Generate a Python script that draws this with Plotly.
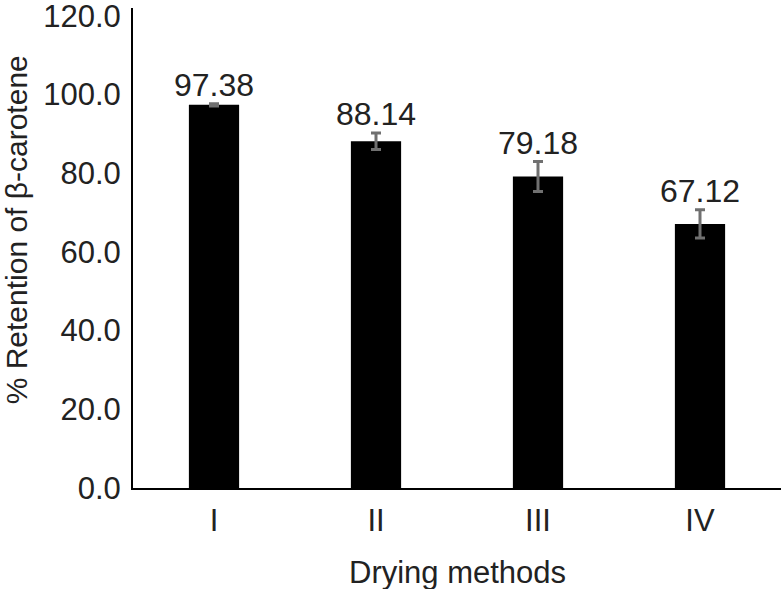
import plotly.graph_objects as go

categories = ["I", "II", "III", "IV"]
values = [97.38, 88.14, 79.18, 67.12]
errors = [0.3, 2.1, 3.8, 3.6]
labels = ["97.38", "88.14", "79.18", "67.12"]

FONT = "Liberation Sans, Arial"

fig = go.Figure()
fig.add_trace(go.Bar(
    x=categories, y=values,
    marker=dict(color="black", line=dict(width=0)),
    error_y=dict(type="data", array=errors, color="#707070", thickness=3, width=5),
    width=0.31,
))
fig.add_trace(go.Scatter(
    x=categories, y=[v + e for v, e in zip(values, errors)],
    mode="text", text=labels, textposition="top center",
    textfont=dict(size=32, color="#222222", family=FONT),
    showlegend=False, hoverinfo="skip",
))
fig.add_annotation(
    text="% Retention of β-carotene", textangle=-90,
    xref="paper", yref="paper", x=-0.18, y=0.5375,
    xanchor="center", yanchor="middle", showarrow=False,
    font=dict(size=30, color="#222222", family=FONT),
)
fig.add_annotation(
    text="Drying methods",
    xref="paper", yref="paper", x=0.5, y=-0.175,
    xanchor="center", yanchor="middle", showarrow=False,
    font=dict(size=31, color="#222222", family=FONT),
)
fig.update_layout(
    width=782, height=589,
    margin=dict(l=133, r=1, t=8, b=101),
    plot_bgcolor="white", paper_bgcolor="white",
    showlegend=False,
    font=dict(family=FONT, size=31, color="#222222"),
    xaxis=dict(
        showline=True, linecolor="black", linewidth=2, automargin=False,
        ticks="", tickfont=dict(size=31), ticklabelstandoff=4,
        range=[-0.5, 3.5],
    ),
    yaxis=dict(
        range=[0, 122], tickvals=[0, 20, 40, 60, 80, 100, 120],
        ticktext=["0.0", "20.0", "40.0", "60.0", "80.0", "100.0", "120.0"],
        showline=True, linecolor="black", linewidth=2, showgrid=False, automargin=False,
        ticks="", tickfont=dict(size=31), zeroline=False, ticklabelstandoff=4,
        ticklabeloverflow="allow",
    ),
)
fig.write_html(
    "out.html",
    config={"displayModeBar": False},
    post_script="document.body.style.margin='0';document.body.style.overflow='hidden';",
)
